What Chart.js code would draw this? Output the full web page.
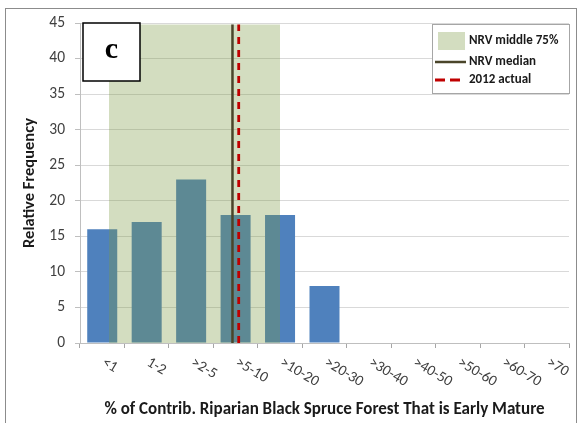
<!DOCTYPE html>
<html>
<head>
<meta charset="utf-8">
<script src="https://cdn.jsdelivr.net/npm/chart.js@4.4.1/dist/chart.umd.min.js"></script>
<style>
html,body{margin:0;padding:0;background:#fff;}
#wrap{width:579px;height:423px;position:relative;}
</style>
</head>
<body>
<div id="wrap"><canvas id="c" width="579" height="423"></canvas></div>
<script>
const categories = ['<1','1-2','>2-5','>5-10','>10-20','>20-30','>30-40','>40-50','>50-60','>60-70','>70'];
const frequency = [16, 17, 23, 18, 18, 8, 0, 0, 0, 0, 0];
const yMax = 45;
const yStep = 5;
// NRV values expressed in category-index units along the x axis
const nrvRange = [0.15, 4.0];
const nrvTop = 44.8;
const nrvMedian = 2.93;
const actual2012 = 3.07;
const legendLabels = ['NRV middle 75%', 'NRV median', '2012 actual'];
const panelLetter = 'c';
const xTitle = '% of Contrib. Riparian Black Spruce Forest That is Early Mature';
const yTitle = 'Relative Frequency';

const BAR = '#4F81BD';
const SHADE = 'rgba(124,153,67,0.335)';
const MEDIAN = '#4A452A';
const ACTUAL = '#C00000';
const FONT = 'Carlito, Lato, "Liberation Sans", sans-serif';

const decor = {
  id: 'decor',
  beforeDraw(chart) {
    const ctx = chart.ctx;
    ctx.save();
    ctx.fillStyle = '#fff';
    ctx.fillRect(0, 0, chart.width, chart.height);
    ctx.strokeStyle = '#8C8C8C';
    ctx.lineWidth = 1;
    ctx.strokeRect(5.5, 8.5, 571, 430);
    ctx.restore();
  },
  afterDraw(chart) {
    const ctx = chart.ctx;
    const xs = chart.scales.x;
    // rotated category labels
    ctx.save();
    ctx.font = '15px ' + FONT;
    ctx.fillStyle = '#404040';
    categories.forEach((lab, i) => {
      const px = xs.getPixelForValue(i);
      ctx.save();
      ctx.translate(px + 5, 355);
      ctx.rotate(31 * Math.PI / 180);
      ctx.textAlign = 'left';
      ctx.textBaseline = 'top';
      ctx.fillText(lab, 0, 0);
      ctx.restore();
    });
    ctx.restore();

    // panel letter box
    ctx.save();
    ctx.fillStyle = '#fff';
    ctx.fillRect(83, 23, 57, 58);
    ctx.strokeStyle = '#000';
    ctx.lineWidth = 1.5;
    ctx.strokeRect(83, 23, 57, 58);
    ctx.fillStyle = '#000';
    ctx.font = 'bold 30px "Liberation Serif", "DejaVu Serif", serif';
    ctx.textAlign = 'center';
    ctx.textBaseline = 'middle';
    ctx.fillText(panelLetter, 111.5, 50);
    ctx.restore();

    // legend
    ctx.save();
    ctx.fillStyle = '#fff';
    ctx.fillRect(432, 24, 137, 69);
    ctx.strokeStyle = '#A6A6A6';
    ctx.lineWidth = 1;
    ctx.strokeRect(432.5, 24.5, 137, 69);
    ctx.fillStyle = SHADE;
    ctx.fillRect(438, 32, 27, 18);
    ctx.strokeStyle = MEDIAN;
    ctx.lineWidth = 2.5;
    ctx.beginPath(); ctx.moveTo(435, 62); ctx.lineTo(466, 62); ctx.stroke();
    ctx.strokeStyle = ACTUAL;
    ctx.lineWidth = 2.8;
    ctx.setLineDash([10, 5]);
    ctx.beginPath(); ctx.moveTo(435, 80); ctx.lineTo(460, 80); ctx.stroke();
    ctx.setLineDash([]);
    ctx.fillStyle = '#1a1a1a';
    ctx.font = 'bold 13px ' + FONT;
    ctx.textAlign = 'left';
    ctx.textBaseline = 'middle';
    ctx.fillText(legendLabels[0], 469, 41);
    ctx.fillText(legendLabels[1], 469, 62);
    ctx.fillText(legendLabels[2], 469, 80);
    ctx.restore();
  }
};

new Chart(document.getElementById('c'), {
  type: 'bar',
  data: {
    labels: categories,
    datasets: [
      {
        type: 'line',
        label: legendLabels[2],
        xAxisID: 'x2', yAxisID: 'y',
        data: [{x: actual2012, y: 0}, {x: actual2012, y: nrvTop}],
        borderColor: ACTUAL, borderWidth: 2.8, borderDash: [7, 6],
        pointRadius: 0, fill: false, order: -2
      },
      {
        type: 'line',
        label: legendLabels[1],
        xAxisID: 'x2', yAxisID: 'y',
        data: [{x: nrvMedian, y: 0}, {x: nrvMedian, y: nrvTop}],
        borderColor: MEDIAN, borderWidth: 2.5,
        pointRadius: 0, fill: false, order: -1
      },
      {
        type: 'line',
        label: legendLabels[0],
        xAxisID: 'x2', yAxisID: 'y',
        data: [{x: nrvRange[0], y: nrvTop}, {x: nrvRange[1], y: nrvTop}],
        borderWidth: 0, borderColor: 'rgba(0,0,0,0)',
        backgroundColor: SHADE, fill: 'origin',
        pointRadius: 0, order: 0
      },
      {
        type: 'bar',
        label: 'Frequency',
        xAxisID: 'x', yAxisID: 'y',
        data: frequency,
        backgroundColor: BAR,
        grouped: false,
        categoryPercentage: 1, barPercentage: 0.675,
        order: 1
      }
    ]
  },
  options: {
    responsive: false,
    animation: false,
    events: [],
    layout: { padding: { left: 0, right: 10, top: 23, bottom: 0 } },
    plugins: { legend: { display: false }, tooltip: { enabled: false } },
    scales: {
      x: {
        type: 'category',
        grid: { display: true, drawOnChartArea: false, drawTicks: true, tickLength: 5, color: '#A6A6A6', offset: true },
        border: { display: true, color: '#BFBFBF' },
        ticks: { display: false },
        title: { display: true, text: xTitle, color: '#1a1a1a', font: { family: FONT, size: 17, weight: 'bold' }, padding: { top: 0, bottom: 3 } },
        afterFit(s) { s.height = 80; }
      },
      x2: {
        type: 'linear', position: 'top', display: true, min: -0.5, max: 10.5, offset: false,
        grid: { display: false, offset: false }, border: { display: false }, ticks: { display: false },
        afterFit(s) { s.height = 0; }
      },
      y: {
        min: 0, max: yMax,
        ticks: { stepSize: yStep, color: '#404040', font: { family: FONT, size: 15.5 }, padding: 10 },
        grid: { color: '#D9D9D9', tickLength: 5, drawTicks: true, tickColor: '#BFBFBF' },
        border: { display: true, color: '#BFBFBF' },
        title: { display: true, text: yTitle, color: '#1a1a1a', font: { family: FONT, size: 16.5, weight: 'bold' }, padding: { top: 20, bottom: 0 } },
        afterFit(s) { s.width = 80; }
      }
    }
  },
  plugins: [decor]
});
</script>
</body>
</html>
